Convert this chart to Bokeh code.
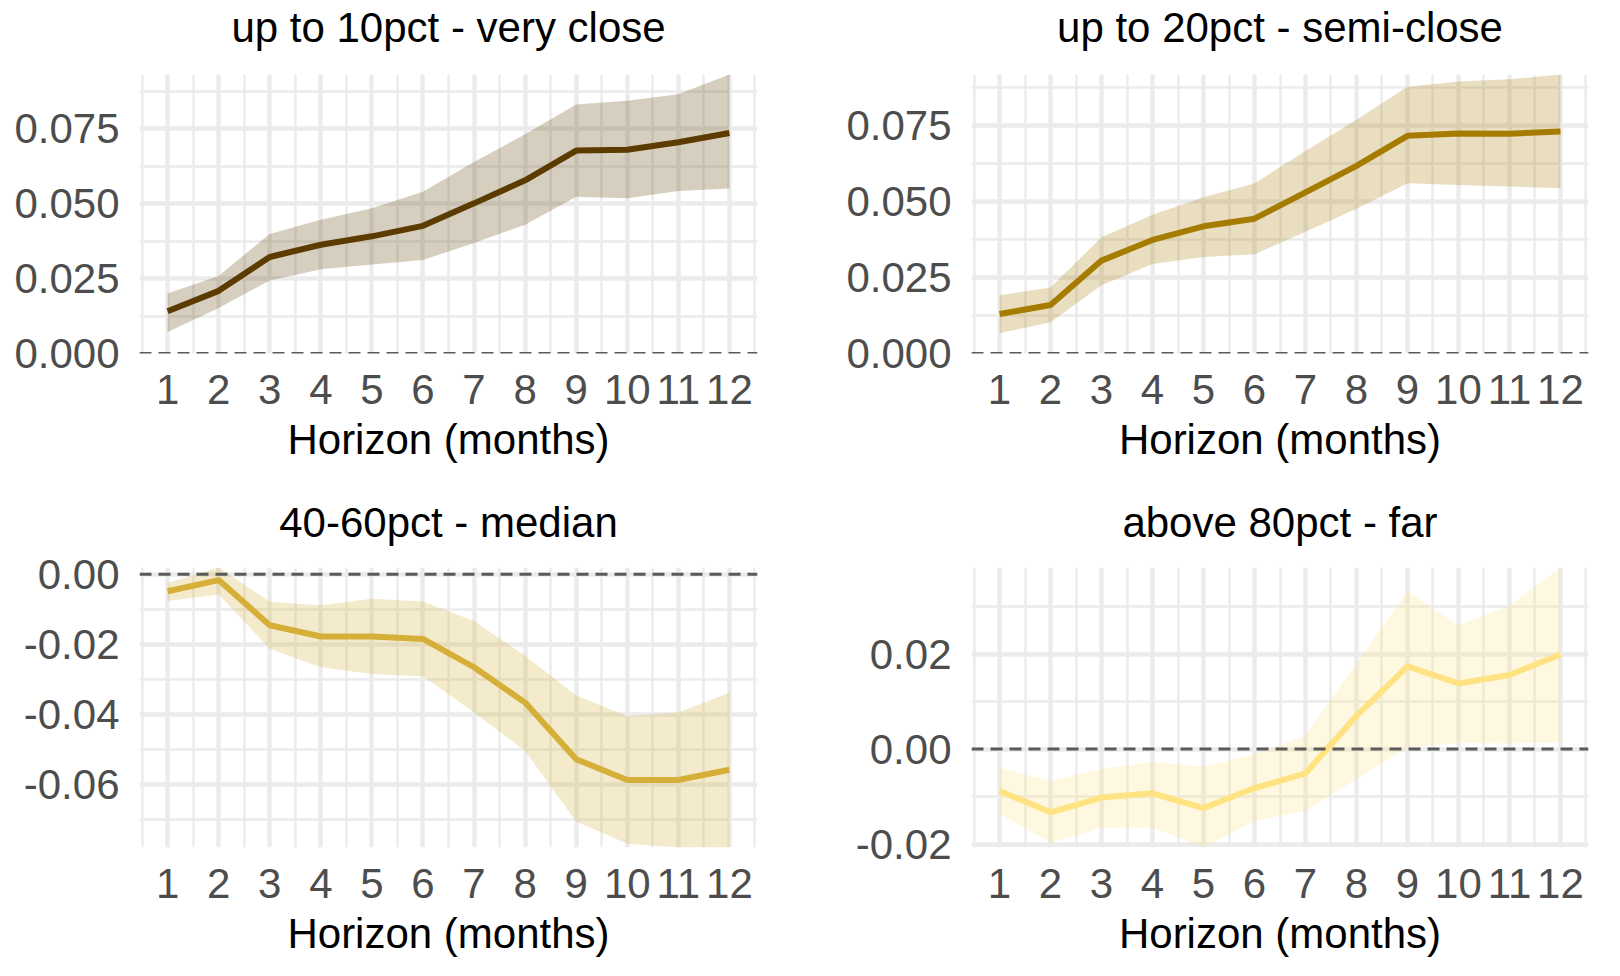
import numpy as np
from bokeh.plotting import figure
from bokeh.layouts import column, row
from bokeh.models import Range1d, FixedTicker, PrintfTickFormatter, Span
from bokeh.core.properties import value
from bokeh.embed import file_html
from bokeh.resources import INLINE

# ---------------- data ----------------
horizon = [1, 2, 3, 4, 5, 6, 7, 8, 9, 10, 11, 12]

titles = ["up to 10pct - very close", "up to 20pct - semi-close",
          "40-60pct - median", "above 80pct - far"]
x_label = "Horizon (months)"
x_tick_labels = ["1", "2", "3", "4", "5", "6", "7", "8", "9", "10", "11", "12"]

close_est = [0.0141, 0.0209, 0.0322, 0.0363, 0.0391, 0.0426, 0.0501, 0.0578, 0.0677, 0.0680, 0.0705, 0.0736]
close_hi = [0.0200, 0.0259, 0.0399, 0.0446, 0.0485, 0.0540, 0.0639, 0.0732, 0.0831, 0.0843, 0.0865, 0.0931]
close_lo = [0.0072, 0.0152, 0.0244, 0.0281, 0.0297, 0.0312, 0.0369, 0.0430, 0.0523, 0.0518, 0.0542, 0.0551]

semi_est = [0.0130, 0.0160, 0.0306, 0.0374, 0.0419, 0.0444, 0.0531, 0.0618, 0.0717, 0.0725, 0.0724, 0.0731]
semi_hi = [0.0192, 0.0217, 0.0383, 0.0457, 0.0515, 0.0560, 0.0667, 0.0770, 0.0879, 0.0896, 0.0903, 0.0919]
semi_lo = [0.0067, 0.0103, 0.0225, 0.0295, 0.0318, 0.0327, 0.0401, 0.0477, 0.0561, 0.0555, 0.0550, 0.0544]

median_est = [-0.0049, -0.0017, -0.0146, -0.0178, -0.0178, -0.0185, -0.0266, -0.0367, -0.0529, -0.0588, -0.0588, -0.0559]
median_hi = [-0.0025, 0.0019, -0.0079, -0.0089, -0.0070, -0.0078, -0.0134, -0.0233, -0.0347, -0.0405, -0.0395, -0.0338]
median_lo = [-0.0077, -0.0058, -0.0213, -0.0266, -0.0285, -0.0292, -0.0395, -0.0505, -0.0707, -0.0770, -0.0781, -0.0781]

far_est = [-0.0088, -0.0133, -0.0102, -0.0093, -0.0124, -0.0082, -0.0051, 0.0070, 0.0174, 0.0138, 0.0156, 0.0199]
far_hi = [-0.0039, -0.0067, -0.0042, -0.0027, -0.0037, -0.0011, 0.0028, 0.0181, 0.0332, 0.0260, 0.0302, 0.0382]
far_lo = [-0.0136, -0.0197, -0.0165, -0.0165, -0.0207, -0.0151, -0.0130, -0.0063, 0.0003, 0.0013, 0.0012, 0.0015]

close_yticks = [0.0, 0.025, 0.05, 0.075]
close_yminor = [0.0125, 0.0375, 0.0625, 0.0875]
median_yticks = [-0.06, -0.04, -0.02, 0.0]
median_yminor = [-0.07, -0.05, -0.03, -0.01]
far_yticks = [-0.02, 0.0, 0.02]
far_yminor = [-0.01, 0.01, 0.03]

colors = ["#5B3B00", "#A67C00", "#D5AF37", "#FFE383"]

FONT = "Liberation Sans"
GRID = "#EBEBEB"

# ---------------- layout constants ----------------
TITLE_H = 60                 # height of each title strip
TITLE_MID = [33, 26.3]       # text middle, px above strip bottom (row 1, row 2)
LEFT_COL = dict(left=139, right=30, fw=618)
RIGHT_COL = dict(left=184, right=10, fw=617)


def title_strip(text, col, mid):
    t = figure(frame_width=col["fw"], frame_height=TITLE_H,
               min_border_left=col["left"], min_border_right=col["right"],
               min_border_top=0, min_border_bottom=0,
               x_range=Range1d(0, 1), y_range=Range1d(0, TITLE_H),
               x_axis_type=None, y_axis_type=None,
               output_backend="svg", toolbar_location=None,
               outline_line_color=None, border_fill_color="white",
               background_fill_color="white")
    t.grid.visible = False
    t.text(x=[0.5], y=[mid], text=[text], text_align="center",
           text_baseline="middle", text_font=value(FONT),
           text_font_size=value("42px"), text_color="black")
    return t


def panel(est, lo, hi, color, yticks, yminor, yfmt, col, top, bottom, fh):
    x = np.array(horizon, dtype=float)
    span = x.max() - x.min()
    ymin = min(min(lo), 0.0)
    ymax = max(max(hi), 0.0)
    p = figure(frame_width=col["fw"], frame_height=fh,
               x_range=Range1d(x.min() - 0.05 * span, x.max() + 0.05 * span),
               y_range=Range1d(ymin, ymax),
               output_backend="svg", toolbar_location=None,
               min_border_left=col["left"], min_border_right=col["right"],
               min_border_top=top, min_border_bottom=bottom,
               outline_line_color=None, background_fill_color="white",
               border_fill_color="white")

    minor_x = [v + 0.5 for v in [0] + horizon]
    p.xaxis.ticker = FixedTicker(ticks=horizon, minor_ticks=minor_x)
    p.xaxis.major_label_overrides = {h: s for h, s in zip(horizon, x_tick_labels)}
    p.yaxis.ticker = FixedTicker(ticks=yticks, minor_ticks=yminor)
    p.yaxis.formatter = PrintfTickFormatter(format=yfmt)

    for ax in (p.xaxis, p.yaxis):
        ax.axis_line_color = None
        ax.major_tick_line_color = None
        ax.minor_tick_line_color = None
        ax.major_tick_out = 0
        ax.major_tick_in = 0
        ax.minor_tick_out = 0
        ax.major_label_text_font = FONT
        ax.major_label_text_font_size = "42px"
        ax.major_label_text_color = "#4D4D4D"
    p.xaxis.major_label_standoff = 21
    p.yaxis.major_label_standoff = 20
    p.xaxis.axis_label = x_label
    p.xaxis.axis_label_text_font = FONT
    p.xaxis.axis_label_text_font_size = "42px"
    p.xaxis.axis_label_text_font_style = "normal"
    p.xaxis.axis_label_text_color = "black"
    p.xaxis.axis_label_standoff = 9

    for g in (p.xgrid, p.ygrid):
        g.grid_line_color = GRID
        g.grid_line_width = 4.4
        g.minor_grid_line_color = GRID
        g.minor_grid_line_width = 2.4

    p.varea(x=horizon, y1=lo, y2=hi, fill_color=color, fill_alpha=0.25)
    p.add_layout(Span(location=0, dimension="width", line_color="#5A5A5A",
                      line_width=3, line_dash="12 7"))
    p.line(x=horizon, y=est, line_color=color, line_width=6)
    return p


t1 = title_strip(titles[0], LEFT_COL, TITLE_MID[0])
t2 = title_strip(titles[1], RIGHT_COL, TITLE_MID[0])
t3 = title_strip(titles[2], LEFT_COL, TITLE_MID[1])
t4 = title_strip(titles[3], RIGHT_COL, TITLE_MID[1])

p1 = panel(close_est, close_lo, close_hi, colors[0], close_yticks, close_yminor, "%.3f",
           LEFT_COL, 14, 135, 279)
p2 = panel(semi_est, semi_lo, semi_hi, colors[1], close_yticks, close_yminor, "%.3f",
           RIGHT_COL, 14, 135, 279)
p3 = panel(median_est, median_lo, median_hi, colors[2], median_yticks, median_yminor, "%.2f",
           LEFT_COL, 19, 115, 280)
p4 = panel(far_est, far_lo, far_hi, colors[3], far_yticks, far_yminor, "%.2f",
           RIGHT_COL, 19, 115, 280)

layout = column(row(t1, t2, spacing=0), row(p1, p2, spacing=0),
                row(t3, t4, spacing=0), row(p3, p4, spacing=0), spacing=0)
open("out.html", "w").write(file_html(layout, INLINE))
